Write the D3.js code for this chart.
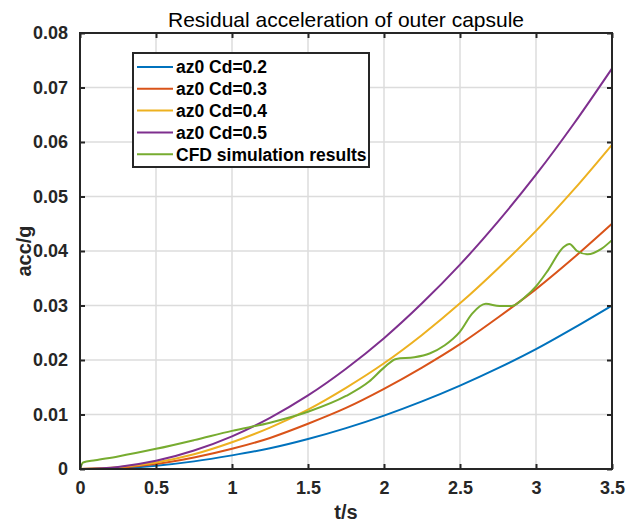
<!DOCTYPE html>
<meta charset="utf-8">
<style>
body { margin: 0; background: #fff; font-family: Arial, "Liberation Sans", Helvetica, sans-serif; }
.grid line { stroke: #dcdcdc; stroke-width: 1.5; }
.axis text { font-size: 18px; font-weight: bold; fill: #262626; }
.axis path, .axis line { stroke: #262626; }
</style>
<body>
<script src="https://cdnjs.cloudflare.com/ajax/libs/d3/7.8.5/d3.min.js"></script>
<script>
// time grid for the model curves (s)
var tModel = [0, 0.25, 0.5, 0.75, 1, 1.25, 1.5, 1.75, 2, 2.25, 2.5, 2.75, 3, 3.25, 3.5];
var cd02 = [0, 0.00015, 0.0006, 0.0014, 0.0025, 0.0038, 0.0055, 0.0075, 0.0098, 0.0124, 0.0153, 0.0185, 0.022, 0.0259, 0.030];
var cd03 = [0, 0.00023, 0.0009, 0.0021, 0.0037, 0.0057, 0.0083, 0.0112, 0.0147, 0.0186, 0.0229, 0.0278, 0.033, 0.0388, 0.045];
var cd04 = [0, 0.0003, 0.0012, 0.0027, 0.0049, 0.0076, 0.0109, 0.0149, 0.0194, 0.0246, 0.0304, 0.0368, 0.0437, 0.0513, 0.0595];
var cd05 = [0, 0.00038, 0.0015, 0.0034, 0.006, 0.0094, 0.0135, 0.0184, 0.024, 0.0304, 0.0375, 0.0454, 0.054, 0.0634, 0.0735];

// CFD
var tCfd = [0, 0.02, 0.1, 0.25, 0.5, 0.75, 1.0, 1.25, 1.5, 1.75, 1.9, 2.0, 2.08, 2.2, 2.3, 2.4, 2.5, 2.58, 2.67, 2.76, 2.84, 2.93, 3.0, 3.08, 3.18, 3.22, 3.27, 3.34, 3.43, 3.5];
var cfd = [0, 0.0012, 0.0016, 0.0023, 0.0037, 0.0053, 0.0070, 0.0085, 0.0105, 0.0134, 0.0160, 0.0186, 0.0202, 0.0205, 0.0212, 0.0227, 0.0252, 0.0285, 0.0303, 0.0299, 0.0299, 0.0316, 0.0335, 0.0365, 0.0407, 0.0413, 0.0400, 0.0394, 0.0404, 0.0420];

var names = ["az0 Cd=0.2", "az0 Cd=0.3", "az0 Cd=0.4", "az0 Cd=0.5", "CFD simulation results"];
var colors = ["#0072BD", "#D95319", "#EDB120", "#7E2F8E", "#77AC30"];
var xTicks = [0, 0.5, 1, 1.5, 2, 2.5, 3, 3.5];
var yTicks = [0, 0.01, 0.02, 0.03, 0.04, 0.05, 0.06, 0.07, 0.08];

var series = [
  tModel.map(function(t, i) { return [t, cd02[i]]; }),
  tModel.map(function(t, i) { return [t, cd03[i]]; }),
  tModel.map(function(t, i) { return [t, cd04[i]]; }),
  tModel.map(function(t, i) { return [t, cd05[i]]; }),
  tCfd.map(function(t, i) { return [t, cfd[i]]; })
];

var W = 636, H = 524;
var L = 80, R = 612, T = 33, B = 469;

var svg = d3.select("body").append("svg")
    .attr("width", W)
    .attr("height", H);

var x = d3.scaleLinear().domain([0, 3.5]).range([L, R]);
var y = d3.scaleLinear().domain([0, 0.08]).range([B, T]);

// grid
var grid = svg.append("g").attr("class", "grid");
grid.selectAll(".vx").data(xTicks.slice(1, -1)).enter().append("line")
    .attr("x1", function(d) { return x(d); }).attr("x2", function(d) { return x(d); })
    .attr("y1", T).attr("y2", B);
grid.selectAll(".hy").data(yTicks.slice(1, -1)).enter().append("line")
    .attr("y1", function(d) { return y(d); }).attr("y2", function(d) { return y(d); })
    .attr("x1", L).attr("x2", R);

// curves
var line = d3.line()
    .x(function(d) { return x(d[0]); })
    .y(function(d) { return y(d[1]); })
    .curve(d3.curveMonotoneX);

svg.selectAll(".series").data(series).enter().append("path")
    .attr("fill", "none")
    .attr("stroke", function(d, i) { return colors[i]; })
    .attr("stroke-width", 2)
    .attr("d", line);

// axes (ticks inside, box on)
var fmt = function(d) { return d === 0 ? "0" : String(d); };
svg.append("g").attr("class", "axis")
    .attr("transform", "translate(0," + B + ")")
    .call(d3.axisBottom(x).tickValues(xTicks).tickFormat(fmt).tickSizeInner(-5).tickSizeOuter(0).tickPadding(12))
    .call(function(g) { g.select(".domain").remove(); });
svg.append("g").attr("class", "axis")
    .attr("transform", "translate(" + L + ",0)")
    .call(d3.axisLeft(y).tickValues(yTicks).tickFormat(fmt).tickSizeInner(-5).tickSizeOuter(0).tickPadding(12))
    .call(function(g) { g.select(".domain").remove(); });
svg.append("g").attr("class", "axis")
    .attr("transform", "translate(0," + T + ")")
    .call(d3.axisTop(x).tickValues(xTicks).tickFormat("").tickSizeInner(-5).tickSizeOuter(0))
    .call(function(g) { g.select(".domain").remove(); });
svg.append("g").attr("class", "axis")
    .attr("transform", "translate(" + R + ",0)")
    .call(d3.axisRight(y).tickValues(yTicks).tickFormat("").tickSizeInner(-5).tickSizeOuter(0))
    .call(function(g) { g.select(".domain").remove(); });
svg.selectAll(".axis .tick line").attr("stroke-width", 2);

svg.append("rect")
    .attr("x", L).attr("y", T)
    .attr("width", R - L).attr("height", B - T)
    .attr("fill", "none")
    .attr("stroke", "#262626")
    .attr("stroke-width", 2);

// labels
svg.append("text")
    .attr("x", (L + R) / 2).attr("y", 27)
    .attr("text-anchor", "middle")
    .style("font-size", "21px")
    .attr("fill", "#000")
    .text("Residual acceleration of outer capsule");

svg.append("text")
    .attr("x", (L + R) / 2).attr("y", 519)
    .attr("text-anchor", "middle")
    .style("font-size", "20px").style("font-weight", "bold")
    .attr("fill", "#262626")
    .text("t/s");

svg.append("text")
    .attr("transform", "translate(31," + (T + B) / 2 + ") rotate(-90)")
    .attr("text-anchor", "middle")
    .style("font-size", "20px").style("font-weight", "bold")
    .attr("fill", "#262626")
    .text("acc/g");

// legend
var lg = svg.append("g");
lg.append("rect")
    .attr("x", 133).attr("y", 53)
    .attr("width", 236).attr("height", 114)
    .attr("fill", "#fff")
    .attr("stroke", "#262626")
    .attr("stroke-width", 2);
var item = lg.selectAll(".item").data(names).enter().append("g")
    .attr("transform", function(d, i) { return "translate(0," + (67 + i * 21.8) + ")"; });
item.append("line")
    .attr("x1", 137).attr("x2", 173)
    .attr("stroke", function(d, i) { return colors[i]; })
    .attr("stroke-width", 2);
item.append("text")
    .attr("x", 176).attr("dy", "0.36em")
    .style("font-size", "17.5px").style("font-weight", "bold")
    .attr("fill", "#000")
    .text(function(d) { return d; });
</script>
